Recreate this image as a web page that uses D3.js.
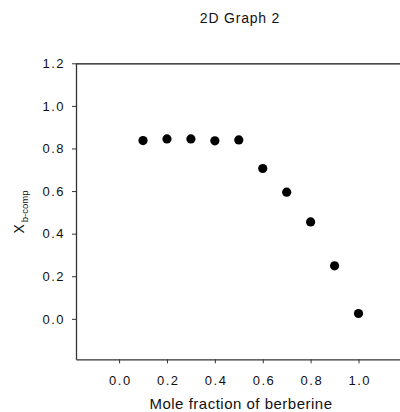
<!DOCTYPE html>
<html>
<head>
<meta charset="utf-8">
<script src="https://cdn.jsdelivr.net/npm/d3@7"></script>
<style>
  body { margin: 0; background: #fff; }
  text { font-family: "Liberation Sans", Arial, sans-serif; fill: #111; }
</style>
</head>
<body>
<svg id="chart" width="400" height="412"></svg>
<script>
// mole fraction vs X b-comp
const moleFraction = [0.1, 0.2, 0.3, 0.4, 0.5, 0.6, 0.7, 0.8, 0.9, 1.0];
const xbComp = [0.837, 0.845, 0.845, 0.836, 0.840, 0.706, 0.595, 0.455, 0.249, 0.025];
const xTicks = [0.0, 0.2, 0.4, 0.6, 0.8, 1.0];
const yTicks = [0.0, 0.2, 0.4, 0.6, 0.8, 1.0, 1.2];

const svg = d3.select("#chart");

const x = d3.scaleLinear().domain([-0.18, 1.18]).range([76, 401.6]);
const y = d3.scaleLinear().domain([-0.19, 1.2]).range([359.3, 63.3]);

svg.append("text")
  .attr("x", 240)
  .attr("y", 23)
  .attr("text-anchor", "middle")
  .attr("font-size", "14px")
  .attr("letter-spacing", "0.8px")
  .text("2D Graph 2");

// top frame line
svg.append("line")
  .attr("x1", x.range()[0]).attr("x2", x.range()[1])
  .attr("y1", y(1.2) + 0.5).attr("y2", y(1.2) + 0.5)
  .attr("stroke", "#111")
  .attr("stroke-width", 1.3);

const xAxis = svg.append("g")
  .attr("transform", `translate(0,${y.range()[0]})`)
  .call(d3.axisBottom(x).tickValues(xTicks).tickSize(4).tickSizeOuter(0).tickPadding(12)
    .tickFormat(d3.format(".1f")));

const yAxis = svg.append("g")
  .attr("transform", `translate(${x.range()[0]},0)`)
  .call(d3.axisLeft(y).tickValues(yTicks).tickSize(4).tickSizeOuter(0).tickPadding(7)
    .tickFormat(d3.format(".1f")));

[xAxis, yAxis].forEach(g => {
  g.select(".domain").attr("stroke", "#333").attr("stroke-width", 1.3);
  g.selectAll(".tick line").attr("stroke", "#333");
  g.selectAll(".tick text")
    .attr("font-size", "13px")
    .attr("letter-spacing", "1.5px")
    .attr("font-family", "'Liberation Sans', Arial, sans-serif")
    .attr("fill", "#111");
});
xAxis.selectAll(".tick text").attr("dx", "0.75px");

svg.selectAll("circle.pt")
  .data(moleFraction)
  .join("circle")
  .attr("class", "pt")
  .attr("cx", d => x(d))
  .attr("cy", (d, i) => y(xbComp[i]))
  .attr("r", 4.6)
  .attr("fill", "#000");

svg.append("text")
  .attr("x", 241)
  .attr("y", 409)
  .attr("text-anchor", "middle")
  .attr("font-size", "15px")
  .attr("letter-spacing", "0.5px")
  .text("Mole fraction of berberine");

const yl = svg.append("text")
  .attr("transform", "translate(24,212) rotate(-90)")
  .attr("text-anchor", "middle")
  .attr("font-size", "14px");
yl.append("tspan").text("X");
yl.append("tspan").attr("dx", 2).attr("dy", 4).attr("font-size", "9.5px").text("b-comp");
</script>
</body>
</html>
